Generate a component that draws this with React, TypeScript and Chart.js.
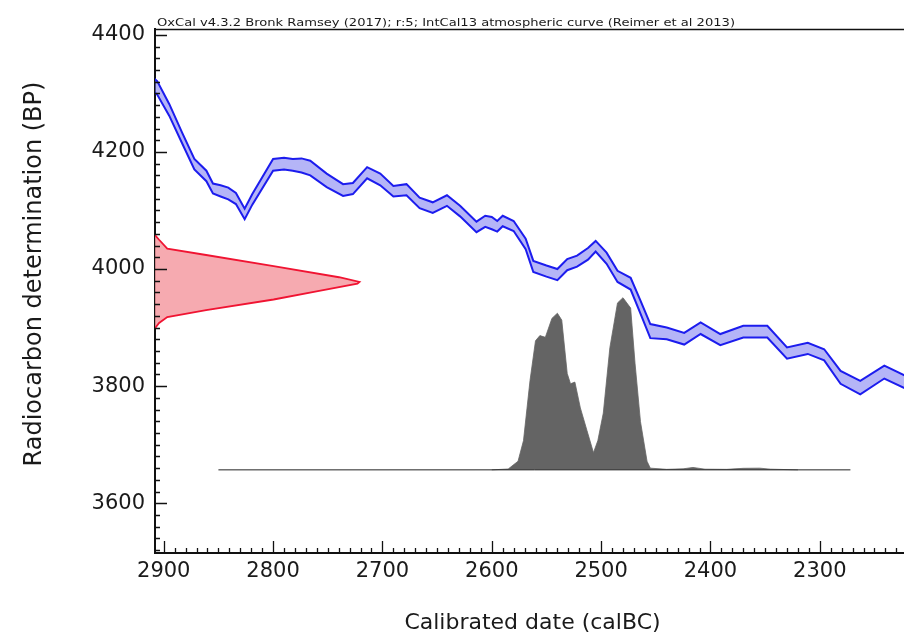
import React, { useEffect, useRef } from 'react';
import { Chart, registerables } from 'chart.js';

Chart.register(...registerables);

// ---- Calibration curve (IntCal13 band), calBC years vs BP ----
const curveYears = [2915, 2906, 2895, 2883, 2872, 2861, 2855, 2848, 2841, 2834, 2826, 2819, 2800, 2790, 2782, 2774, 2766, 2751, 2736, 2727, 2714, 2702, 2690, 2678, 2666, 2654, 2641, 2629, 2614, 2606, 2600, 2595, 2590, 2580, 2569, 2562, 2550, 2540, 2531, 2522, 2512, 2505, 2495, 2485, 2473, 2464, 2455, 2440, 2424, 2409, 2391, 2370, 2348, 2330, 2311, 2296, 2281, 2263, 2241, 2222, 2215];
const curveUpper = [4335, 4321, 4282, 4232, 4188, 4168, 4146, 4143, 4139, 4130, 4103, 4128, 4188, 4190, 4188, 4189, 4185, 4163, 4145, 4147, 4174, 4163, 4142, 4145, 4122, 4114, 4126, 4108, 4081, 4091, 4089, 4082, 4091, 4082, 4052, 4014, 4006, 4000, 4017, 4023, 4036, 4048, 4028, 3997, 3985, 3946, 3906, 3900, 3891, 3909, 3889, 3903, 3903, 3866, 3874, 3863, 3826, 3809, 3835, 3818, 3814];
const curveLower = [4312, 4298, 4262, 4214, 4170, 4150, 4129, 4124, 4119, 4111, 4085, 4110, 4168, 4170, 4168, 4165, 4160, 4140, 4125, 4128, 4155, 4143, 4124, 4126, 4104, 4096, 4108, 4090, 4063, 4072, 4068, 4064, 4073, 4065, 4034, 3995, 3987, 3981, 3998, 4004, 4016, 4030, 4009, 3978, 3965, 3924, 3882, 3880, 3871, 3889, 3870, 3883, 3883, 3847, 3855, 3844, 3804, 3786, 3813, 3796, 3792];

// ---- Radiocarbon measurement (relative probability vs BP) ----
const measBP = [4058, 4050, 4035, 4024, 4005, 3986, 3978, 3975, 3962, 3948, 3930, 3918, 3908, 3899];
const measProb = [0, 0.02, 0.06, 0.25, 0.58, 0.9, 1.0, 0.99, 0.79, 0.58, 0.25, 0.06, 0.02, 0];

// ---- Calibrated date distribution (relative probability vs calBC) ----
const calYears = [2600, 2585, 2576, 2571, 2565, 2560, 2556, 2551, 2545, 2540, 2536, 2531, 2528, 2524, 2519, 2513, 2507, 2503, 2498, 2492, 2485, 2480, 2473, 2469, 2464, 2458, 2455, 2440, 2425, 2416, 2405, 2385, 2370, 2355, 2345, 2320];
const calProb = [0, 0.005, 0.05, 0.17, 0.52, 0.75, 0.78, 0.77, 0.88, 0.91, 0.87, 0.56, 0.5, 0.51, 0.36, 0.23, 0.1, 0.17, 0.33, 0.71, 0.97, 1.0, 0.94, 0.62, 0.28, 0.05, 0.01, 0.003, 0.006, 0.014, 0.004, 0.003, 0.009, 0.01, 0.004, 0];
const calRange = [2850, 2272];

const xTickLabels = ['2900', '2800', '2700', '2600', '2500', '2400', '2300'];
const yTickLabels = ['4400', '4200', '4000', '3800', '3600'];

const TITLE_TEXT = 'OxCal v4.3.2 Bronk Ramsey (2017); r:5; IntCal13 atmospheric curve (Reimer et al 2013)';
const X_TITLE = 'Calibrated date (calBC)';
const Y_TITLE = 'Radiocarbon determination (BP)';

// display ranges / scaling
const X_MIN = 2223;
const X_MAX = 2908;
const Y_MIN = 3515;
const Y_MAX = 4410;
const MEAS_SPAN_YEARS = 187; // width of measurement peak along x
const CAL_BASE_BP = 3657; // baseline of calibrated distribution
const CAL_HEIGHT_BP = 294; // height of calibrated distribution peak

const FONT = '"DejaVu Sans", "Liberation Sans", Arial, sans-serif';

const decorPlugin = {
  id: 'decor',
  afterDraw(chart: any) {
    const { ctx, chartArea: a, scales } = chart;
    const x = scales.x;
    const y = scales.y;
    ctx.save();
    ctx.strokeStyle = '#111';
    ctx.lineWidth = 1.4;
    ctx.beginPath();
    ctx.moveTo(a.left, a.top + 0.5);
    ctx.lineTo(a.right, a.top + 0.5);
    ctx.stroke();
    ctx.lineWidth = 1.3;
    ctx.beginPath();
    for (let v = Math.ceil(x.min / 10) * 10; v <= x.max; v += 10) {
      const px = Math.round(x.getPixelForValue(v)) + 0.5;
      const len = v % 100 === 0 ? 12 : 5;
      ctx.moveTo(px, a.bottom);
      ctx.lineTo(px, a.bottom - len);
    }
    for (let v = Math.ceil(y.min / 20) * 20; v <= y.max; v += 20) {
      const py = Math.round(y.getPixelForValue(v)) + 0.5;
      const len = v % 200 === 0 ? 12 : 5;
      ctx.moveTo(a.left, py);
      ctx.lineTo(a.left + len, py);
    }
    ctx.stroke();

    ctx.fillStyle = '#1a1a1a';
    // top caption
    ctx.font = '10.5px ' + FONT;
    const w = ctx.measureText(TITLE_TEXT).width;
    ctx.save();
    ctx.translate(a.left + 2, a.top - 3);
    ctx.scale(578 / w, 1);
    ctx.textAlign = 'left';
    ctx.textBaseline = 'alphabetic';
    ctx.fillText(TITLE_TEXT, 0, 0);
    ctx.restore();

    // x title
    ctx.font = '22px ' + FONT;
    ctx.textAlign = 'center';
    ctx.textBaseline = 'alphabetic';
    ctx.fillText(X_TITLE, (a.left + a.right) / 2 + 3, 629);

    // y title
    ctx.save();
    ctx.translate(41, 274);
    ctx.rotate(-Math.PI / 2);
    ctx.font = '24px ' + FONT;
    ctx.textAlign = 'center';
    ctx.fillText(Y_TITLE, 0, 0);
    ctx.restore();
    ctx.restore();
  },
};

export default function App() {
  const ref = useRef<HTMLCanvasElement>(null);
  useEffect(() => {
    document.body.style.margin = '0';
    const canvas = ref.current;
    if (!canvas) return;

    const upper = curveYears.map((yr, i) => ({ x: yr, y: curveUpper[i] }));
    const lower = curveYears.map((yr, i) => ({ x: yr, y: curveLower[i] }));
    const meas = measBP.map((bp, i) => ({ x: X_MAX - measProb[i] * MEAS_SPAN_YEARS, y: bp }));
    const cal = calYears.map((yr, i) => ({ x: yr, y: CAL_BASE_BP + calProb[i] * CAL_HEIGHT_BP }));
    const base = calRange.map((yr) => ({ x: yr, y: CAL_BASE_BP }));

    const chart = new Chart(canvas, {
      type: 'line',
      data: {
        datasets: [
          {
            data: upper,
            borderColor: 'rgb(28,28,238)',
            borderWidth: 2,
            backgroundColor: 'rgba(120,120,240,0.55)',
            fill: '+1',
            pointRadius: 0,
          },
          {
            data: lower,
            borderColor: 'rgb(28,28,238)',
            borderWidth: 2,
            fill: false,
            pointRadius: 0,
          },
          {
            data: meas,
            borderColor: 'rgb(240,20,50)',
            borderWidth: 1.8,
            backgroundColor: 'rgba(244,155,162,0.85)',
            fill: 'shape',
            pointRadius: 0,
          },
          {
            data: base,
            borderColor: '#222',
            borderWidth: 1,
            fill: false,
            pointRadius: 0,
          },
          {
            data: cal,
            borderColor: 'rgb(100,100,100)',
            borderWidth: 0.8,
            backgroundColor: 'rgb(100,100,100)',
            fill: { value: CAL_BASE_BP },
            pointRadius: 0,
          },
        ],
      },
      options: {
        animation: false,
        responsive: false,
        devicePixelRatio: 1,
        layout: { padding: { top: 29, left: 0, right: 0, bottom: 0 } },
        plugins: {
          legend: { display: false },
          tooltip: { enabled: false },
          filler: { drawTime: 'beforeDatasetsDraw' },
        },
        scales: {
          x: {
            type: 'linear',
            reverse: true,
            min: X_MIN,
            max: X_MAX,
            afterFit: (s: any) => {
              s.height = 81;
            },
            grid: { display: false, drawTicks: false },
            border: { display: true, color: '#111', width: 2 },
            ticks: {
              stepSize: 100,
              includeBounds: false,
              maxRotation: 0,
              autoSkip: false,
              padding: 6,
              color: '#1a1a1a',
              font: { family: FONT, size: 21 },
              callback: (v: any) => {
                const s = String(v);
                return xTickLabels.includes(s) ? s : '';
              },
            },
          },
          y: {
            type: 'linear',
            min: Y_MIN,
            max: Y_MAX,
            afterFit: (s: any) => {
              s.width = 155;
            },
            grid: { display: false, drawTicks: false },
            border: { display: true, color: '#111', width: 2 },
            ticks: {
              stepSize: 200,
              includeBounds: false,
              autoSkip: false,
              padding: 10,
              color: '#1a1a1a',
              font: { family: FONT, size: 21 },
              callback: (v: any) => {
                const s = String(v);
                return yTickLabels.includes(s) ? s : '';
              },
            },
          },
        },
      },
      plugins: [decorPlugin],
    } as any);
    return () => chart.destroy();
  }, []);

  return (
    <div style={{ position: 'absolute', left: 0, top: 0, width: 904, height: 634, background: '#fff' }}>
      <canvas ref={ref} width={904} height={634} />
    </div>
  );
}
